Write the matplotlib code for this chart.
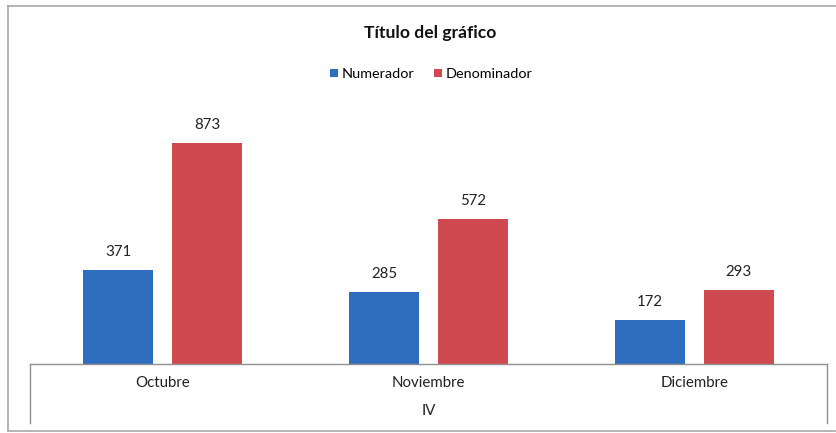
import matplotlib
matplotlib.use("Agg")
import matplotlib.pyplot as plt
from matplotlib.lines import Line2D
import numpy as np

plt.rcParams['font.family'] = ['Lato', 'DejaVu Sans']

categories = ["Octubre", "Noviembre", "Diciembre"]
group_label = "IV"
series_names = ["Numerador", "Denominador"]
numerador = [371, 285, 172]
denominador = [873, 572, 293]
title = "Título del gráfico"

W, H = 837, 433
fig = plt.figure(figsize=(W / 100, H / 100), dpi=100)
fig.patch.set_facecolor("white")

# outer chart border (left, top, bottom visible; right side cropped)
border = dict(transform=fig.transFigure, color="#a8a8a8", linewidth=1.2)
fig.add_artist(Line2D([8 / W, 8 / W], [(H - 6) / H, (H - 431) / H], **border))
fig.add_artist(Line2D([8 / W, 1.0], [(H - 6) / H, (H - 6) / H], **border))
fig.add_artist(Line2D([8 / W, 1.0], [(H - 431) / H, (H - 431) / H], **border))

left, right = 30 / W, 827 / W
bottom = (H - 364) / H
top = (H - 111) / H
ax = fig.add_axes([left, bottom, right - left, top - bottom])
ax.patch.set_alpha(0)

colors = ["#2F6EBE", "#CF4A50"]
x = np.arange(len(categories))
bw = 0.263
gap = 0.0715
b1 = ax.bar(x - bw / 2 - gap / 2, numerador, bw, color=colors[0], label=series_names[0])
b2 = ax.bar(x + bw / 2 + gap / 2, denominador, bw, color=colors[1], label=series_names[1])
for bars in (b1, b2):
    for r in bars:
        ax.annotate(f"{int(r.get_height())}", (r.get_x() + r.get_width() / 2, r.get_height()),
                    xytext=(0, 8), textcoords="offset points", ha="center", va="bottom",
                    fontsize=10.8, color="#222222")

ax.set_xlim(-0.5, len(categories) - 0.5)
ax.set_ylim(0, 1000)
ax.set_yticks([])
ax.set_xticks([])
for s in ["top", "left", "right"]:
    ax.spines[s].set_visible(False)
ax.spines["bottom"].set_color("#909090")
ax.spines["bottom"].set_linewidth(1.0)

# category labels
for i, c in enumerate(categories):
    ax.annotate(c, (i, 0), xycoords=("data", "axes fraction"), xytext=(0, -13.5),
                textcoords="offset points", ha="center", va="center", fontsize=10.8, color="#222222")
ax.annotate(group_label, (0.5, 0), xycoords="axes fraction", xytext=(0, -34),
            textcoords="offset points", ha="center", va="center", fontsize=10.8, color="#222222")

# vertical group dividers
for xv in (left, right):
    fig.add_artist(Line2D([xv, xv], [bottom, (H - 423) / H], transform=fig.transFigure,
                          color="#909090", linewidth=1.0))

fig.text(430 / W, (H - 33) / H, title, ha="center", va="center", fontsize=12.6, fontweight="bold",
         color="#111111")
fig.legend(handles=[b1, b2], labels=series_names, loc="center", bbox_to_anchor=(431 / W, (H - 74) / H),
           ncol=2, frameon=False, fontsize=10.4, handlelength=0.55, handleheight=0.55,
           handletextpad=0.25, columnspacing=1.4)

fig.savefig("out.png", dpi=100, facecolor="white")
